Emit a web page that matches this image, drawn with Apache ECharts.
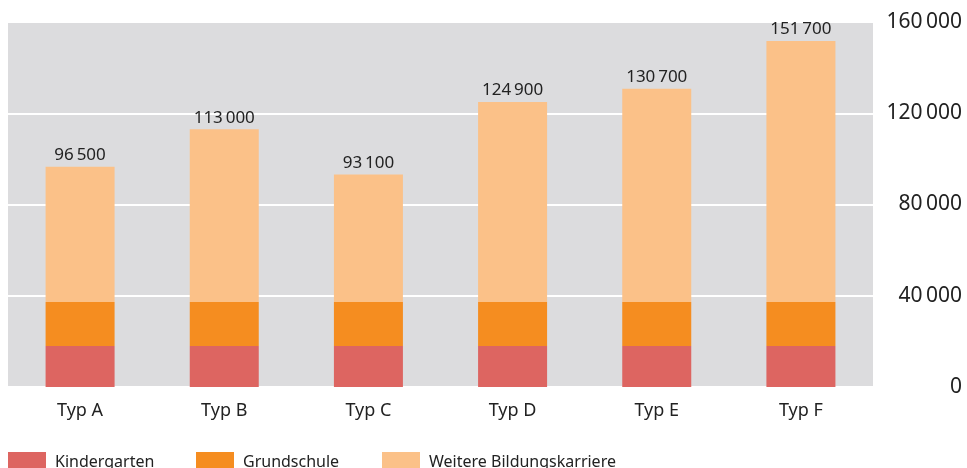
<!DOCTYPE html>
<html>
<head>
<meta charset="utf-8">
<script src="https://cdn.jsdelivr.net/npm/echarts@6/dist/echarts.min.js"></script>
<style>
  html, body { margin: 0; padding: 0; background: #fff; }
  #chart { width: 967px; height: 468px; }
</style>
</head>
<body>
<div id="chart"></div>
<script>
const categories = ["Typ A", "Typ B", "Typ C", "Typ D", "Typ E", "Typ F"];
const kindergarten = [18000, 18000, 18000, 18000, 18000, 18000];
const grundschule = [19300, 19300, 19300, 19300, 19300, 19300];
const totals = [96500, 113000, 93100, 124900, 130700, 151700];
const weitere = [59200, 75700, 55800, 87600, 93400, 114400];
const yTicks = [0, 40000, 80000, 120000, 160000];

const font = "Noto Sans";
const textColor = "#222";

// 96500 -> "96 500" mit schmalem Leerzeichen
const fmt = (v) => String(v).replace(/\B(?=(\d{3})+(?!\d))/g, "\u2009");

const chart = echarts.init(document.getElementById("chart"));

const legendStyle = (left, name) => ({
  left: left,
  top: 452,
  padding: 0,
  data: [name],
  icon: "rect",
  itemWidth: 38,
  itemHeight: 20,
  itemGap: 0,
  selectedMode: false,
  textStyle: { fontFamily: font, fontSize: 16, color: textColor, padding: [0, 0, 0, 4] },
});

chart.setOption({
  animation: false,
  grid: {
    left: 8,
    right: 94,
    top: 22,
    bottom: 81,
    show: true,
    backgroundColor: "#dcdcde",
    borderWidth: 0,
  },
  legend: [
    legendStyle(8, "Kindergarten"),
    legendStyle(196, "Grundschule"),
    legendStyle(382, "Weitere Bildungskarriere"),
  ],
  xAxis: {
    type: "category",
    data: categories,
    axisLine: { show: false },
    axisTick: { show: false },
    axisLabel: {
      margin: 15,
      fontFamily: font,
      fontSize: 18,
      color: textColor,
    },
  },
  yAxis: {
    type: "value",
    position: "right",
    min: yTicks[0],
    max: yTicks[yTicks.length - 1],
    interval: 40000,
    axisLine: { show: false },
    axisTick: { show: false },
    splitLine: { lineStyle: { color: "#fff", width: 2 } },
    axisLabel: {
      align: "right",
      margin: 89,
      fontFamily: font,
      fontSize: 21,
      color: textColor,
      formatter: (v) => fmt(v),
    },
  },
  series: [
    {
      name: "Kindergarten",
      type: "bar",
      stack: "total",
      barWidth: 69,
      data: kindergarten,
      itemStyle: { color: "#dd6561" },
    },
    {
      name: "Grundschule",
      type: "bar",
      stack: "total",
      barWidth: 69,
      data: grundschule,
      itemStyle: { color: "#f58d20" },
    },
    {
      name: "Weitere Bildungskarriere",
      type: "bar",
      stack: "total",
      barWidth: 69,
      data: weitere,
      itemStyle: { color: "#fbc188" },
      label: {
        show: true,
        position: "top",
        distance: 3,
        fontFamily: font,
        fontSize: 17,
        color: textColor,
        formatter: (p) => fmt(totals[p.dataIndex]),
      },
    },
  ],
});
</script>
</body>
</html>
